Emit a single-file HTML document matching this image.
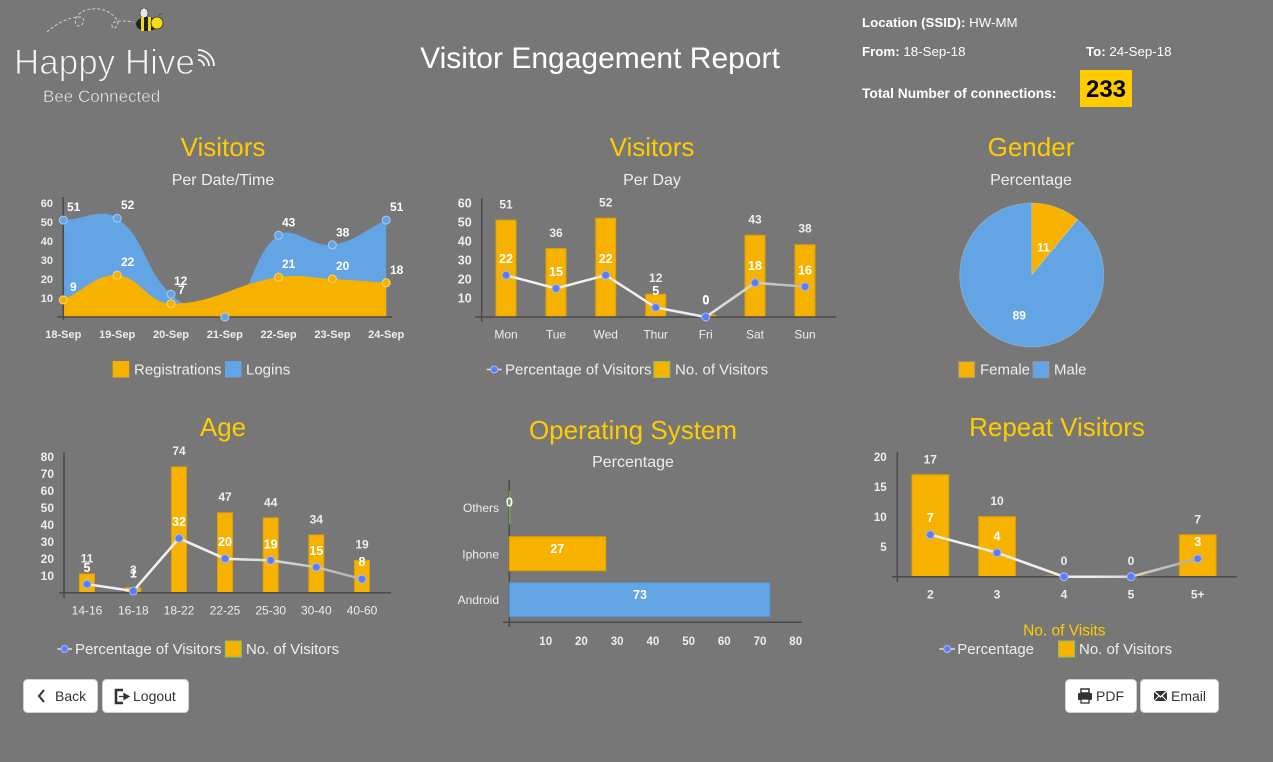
<!DOCTYPE html>
<html><head><meta charset="utf-8"><style>
html,body{margin:0;padding:0;background:#777;width:1273px;height:762px;overflow:hidden}
svg{display:block;font-family:"Liberation Sans",Arial,sans-serif}
</style></head><body>
<svg width="1273" height="762" viewBox="0 0 1273 762" xmlns="http://www.w3.org/2000/svg">
<defs>
<linearGradient id="g2" gradientUnits="userSpaceOnUse" x1="500" y1="0" x2="810" y2="0"><stop offset="0" stop-color="#f2f2f2"/><stop offset="0.6" stop-color="#eeeeee"/><stop offset="1" stop-color="#b5b5b5"/></linearGradient>
<linearGradient id="g4" gradientUnits="userSpaceOnUse" x1="85" y1="0" x2="365" y2="0"><stop offset="0" stop-color="#f2f2f2"/><stop offset="0.5" stop-color="#eeeeee"/><stop offset="1" stop-color="#b0b0b0"/></linearGradient>
<linearGradient id="g6" gradientUnits="userSpaceOnUse" x1="930" y1="0" x2="1200" y2="0"><stop offset="0" stop-color="#f2f2f2"/><stop offset="0.6" stop-color="#eeeeee"/><stop offset="1" stop-color="#a8a8a8"/></linearGradient>
</defs>
<rect width="1273" height="762" fill="#777"/>

<!-- Logo -->
<path d="M47,32 C58,22 70,17 80,17 C86,17 84,26 79,26 C73,26 74,14 86,10 C100,6 112,12 117,20 C120,26 113,31 112,26 C111,21 120,20 134,22" fill="none" stroke="#cfcfcf" stroke-width="1" stroke-dasharray="3,2"/>
<ellipse cx="144" cy="13" rx="4" ry="5" fill="#e8e8e8" stroke="#555" stroke-width="0.8"/>
<ellipse cx="147" cy="24" rx="11" ry="7" fill="#222"/>
<rect x="141" y="17" width="3" height="14" fill="#f0de10"/>
<rect x="148" y="17" width="3" height="14" fill="#f0de10"/>
<circle cx="157" cy="23" r="6" fill="#f0de10" stroke="#333" stroke-width="0.8"/>
<path d="M159,16 q1,-3 3,-2" fill="none" stroke="#444" stroke-width="0.8"/>
<text x="14" y="74" font-size="35" fill="#f6f6f6" stroke="#777" stroke-width="1">Happy Hive</text>
<text x="43" y="102" font-size="17" fill="#f4f4f4" stroke="#777" stroke-width="0.5">Bee Connected</text>
<g fill="none" stroke="#f4f4f4" stroke-width="1.8">
<path d="M198,60 A6,6 0 0,1 204,66"/>
<path d="M198,55 A11,11 0 0,1 209,66"/>
<path d="M198,50 A16,16 0 0,1 214,66"/>
</g>

<!-- Title -->
<text x="600" y="68" font-size="30" fill="#fff" text-anchor="middle">Visitor Engagement Report</text>

<!-- Header info -->
<g font-size="13.3" fill="#fff">
<text x="862" y="27"><tspan font-weight="bold">Location (SSID):</tspan> HW-MM</text>
<text x="862" y="56"><tspan font-weight="bold">From:</tspan> 18-Sep-18</text>
<text x="1086" y="56"><tspan font-weight="bold">To:</tspan> 24-Sep-18</text>
<text x="862" y="98" font-weight="bold" font-size="13.8">Total Number of connections:</text>
</g>
<rect x="1080" y="70" width="52" height="37" fill="#fc0"/>
<text x="1106" y="97" font-size="24" font-weight="bold" fill="#000" text-anchor="middle">233</text>

<!-- Section titles -->
<g font-size="26" fill="#fc0" text-anchor="middle">
<text x="223" y="156">Visitors</text>
<text x="652" y="156">Visitors</text>
<text x="1031" y="156">Gender</text>
<text x="223" y="436">Age</text>
<text x="633" y="439">Operating System</text>
<text x="1057" y="436">Repeat Visitors</text>
</g>
<g font-size="16" fill="#eee" text-anchor="middle">
<text x="223" y="185">Per Date/Time</text>
<text x="652" y="185">Per Day</text>
<text x="1031" y="185">Percentage</text>
<text x="633" y="467">Percentage</text>
</g>

<!-- ============ Chart 1: area ============ -->
<path d="M63.3,220.1 C84.86,219.34 101.4,207.33 117.2,218.2 C144.48,236.97 144.55,269.91 171,294.2 C187.59,309.44 208.7,317 224.8,317 C251.74,302.25 250.98,253.83 278.6,235.3 C294.02,224.95 311.74,247.72 332.4,244.8 C354.78,241.64 364.68,229.98 386.2,220.1 L386.2,317 L63.3,317 Z" fill="#62a4e4"/>
<path d="M63.3,299.9 C84.86,290.02 95.94,274.45 117.2,275.2 C139.02,275.97 148.11,303.43 171,303.7 C212.67,304.19 235.15,283.75 278.6,277.1 C299.71,273.87 310.9,277.86 332.4,279 C353.94,280.14 364.68,281.28 386.2,282.8 L386.2,317 L63.3,317 Z" fill="#f7b200"/>
<line x1="63.3" y1="197" x2="63.3" y2="320" stroke="#4a4a4a" stroke-width="1.5"/>
<line x1="57" y1="317" x2="392" y2="317" stroke="#4a4a4a" stroke-width="1.5"/>
<g fill="#62a4e4" stroke="#a9cdf2" stroke-width="1">
<circle cx="63.3" cy="220.1" r="4"/><circle cx="117.2" cy="218.2" r="4"/><circle cx="171" cy="294.2" r="4"/><circle cx="224.8" cy="317" r="4"/><circle cx="278.6" cy="235.3" r="4"/><circle cx="332.4" cy="244.8" r="4"/><circle cx="386.2" cy="220.1" r="4"/>
</g>
<g fill="#f7b200" stroke="#fbd67a" stroke-width="1">
<circle cx="63.3" cy="299.9" r="4"/><circle cx="117.2" cy="275.2" r="4"/><circle cx="171" cy="303.7" r="4"/><circle cx="278.6" cy="277.1" r="4"/><circle cx="332.4" cy="279" r="4"/><circle cx="386.2" cy="282.8" r="4"/>
</g>
<g font-size="12" font-weight="bold" fill="#fff">
<text x="67" y="211">51</text><text x="121" y="209">52</text><text x="174" y="285">12</text><text x="178" y="294">7</text><text x="282" y="226.5">43</text><text x="336" y="236.5">38</text><text x="390" y="211">51</text>
<text x="70" y="291">9</text><text x="121" y="266">22</text><text x="282" y="268">21</text><text x="336" y="270">20</text><text x="390" y="274">18</text>
</g>
<g font-size="11" font-weight="bold" fill="#eee" text-anchor="end">
<text x="53" y="207">60</text><text x="53" y="226">50</text><text x="53" y="245">40</text><text x="53" y="264">30</text><text x="53" y="283">20</text><text x="53" y="302">10</text>
</g>
<g font-size="11" font-weight="bold" fill="#eee" text-anchor="middle">
<text x="63.3" y="338">18-Sep</text><text x="117.2" y="338">19-Sep</text><text x="171" y="338">20-Sep</text><text x="224.8" y="338">21-Sep</text><text x="278.6" y="338">22-Sep</text><text x="332.4" y="338">23-Sep</text><text x="386.2" y="338">24-Sep</text>
</g>
<rect x="112.7" y="361" width="16.5" height="16.5" fill="#f7b200"/>
<text x="134" y="374.5" font-size="15" fill="#eee">Registrations</text>
<rect x="225" y="361" width="16.5" height="16.5" fill="#62a4e4"/>
<text x="246" y="374.5" font-size="15" fill="#eee">Logins</text>

<!-- ============ Chart 2: per day ============ -->
<g fill="#f7b200" stroke="#dea000" stroke-width="1">
<rect x="496" y="220.1" width="20" height="96.9"/>
<rect x="546" y="248.6" width="20" height="68.4"/>
<rect x="595.7" y="218.2" width="20" height="98.8"/>
<rect x="645.7" y="294.2" width="20" height="22.8"/>
<rect x="695.7" y="315" width="20" height="2"/>
<rect x="745" y="235.3" width="20" height="81.7"/>
<rect x="795" y="244.8" width="20" height="72.2"/>
</g>
<line x1="481.7" y1="198" x2="481.7" y2="322" stroke="#4a4a4a" stroke-width="1.5"/>
<line x1="475" y1="317" x2="836" y2="317" stroke="#4a4a4a" stroke-width="1.5"/>
<polyline points="506,275.2 556,288.5 605.7,275.2 655.7,307.5 705.7,317 755,282.8 805,286.6" fill="none" stroke="url(#g2)" stroke-width="2.5"/>
<g fill="#5b7ef7" stroke="#a7b8ff" stroke-width="1">
<circle cx="506" cy="275.2" r="4"/><circle cx="556" cy="288.5" r="4"/><circle cx="605.7" cy="275.2" r="4"/><circle cx="655.7" cy="307.5" r="4"/><circle cx="705.7" cy="317" r="4"/><circle cx="755" cy="282.8" r="4"/><circle cx="805" cy="286.6" r="4"/>
</g>
<g font-size="12" font-weight="bold" fill="#eee" text-anchor="middle">
<text x="506" y="208.5">51</text><text x="556" y="237">36</text><text x="605.7" y="206.5">52</text><text x="655.7" y="282">12</text><text x="705.7" y="303.5">0</text><text x="755" y="223.5">43</text><text x="805" y="232.5">38</text>
</g>
<g font-size="12.5" font-weight="bold" fill="#fff" text-anchor="middle">
<text x="506" y="262.8">22</text><text x="556" y="276.2">15</text><text x="605.7" y="262.8">22</text><text x="655.7" y="295.2">5</text><text x="706" y="304.5">0</text><text x="755" y="270.2">18</text><text x="805" y="274.5">16</text>
</g>
<g font-size="12.5" font-weight="bold" fill="#eee" text-anchor="end">
<text x="471.7" y="207.5">60</text><text x="471.7" y="226.5">50</text><text x="471.7" y="245.5">40</text><text x="471.7" y="264.5">30</text><text x="471.7" y="283.5">20</text><text x="471.7" y="302.5">10</text>
</g>
<g font-size="12" fill="#eee" text-anchor="middle">
<text x="506" y="338.3">Mon</text><text x="556" y="338.3">Tue</text><text x="605.7" y="338.3">Wed</text><text x="655.7" y="338.3">Thur</text><text x="705.7" y="338.3">Fri</text><text x="755" y="338.3">Sat</text><text x="805" y="338.3">Sun</text>
</g>
<line x1="486.7" y1="369.5" x2="501.7" y2="369.5" stroke="#ddd" stroke-width="1.5"/>
<circle cx="494.2" cy="369.5" r="3.5" fill="#5b7ef7" stroke="#a7b8ff" stroke-width="1"/>
<text x="505" y="374.5" font-size="15" fill="#eee">Percentage of Visitors</text>
<rect x="653.8" y="361.5" width="16" height="16" fill="#f7b200" stroke="#8fc45a" stroke-width="1"/>
<text x="675" y="374.5" font-size="15" fill="#eee">No. of Visitors</text>

<!-- ============ Chart 3: pie ============ -->
<path d="M1031.7,275 L1031.7,203 A72,72 0 0,1 1077.6,219.5 Z" fill="#f7b200" stroke="rgba(255,255,255,0.25)" stroke-width="0.8"/>
<path d="M1031.7,275 L1077.6,219.5 A72,72 0 1,1 1031.7,203 Z" fill="#62a4e4" stroke="rgba(255,255,255,0.25)" stroke-width="0.8"/>
<text x="1043.3" y="251.5" font-size="12" font-weight="bold" fill="#fff" text-anchor="middle">11</text>
<text x="1019.3" y="319.5" font-size="12" font-weight="bold" fill="#fff" text-anchor="middle">89</text>
<rect x="958.7" y="361.7" width="16" height="16" fill="#f7b200" stroke="#999" stroke-width="0.8"/>
<text x="980" y="374.5" font-size="15" fill="#eee">Female</text>
<rect x="1033" y="361.7" width="16" height="16" fill="#62a4e4" stroke="#999" stroke-width="0.8"/>
<text x="1054" y="374.5" font-size="15" fill="#eee">Male</text>

<!-- ============ Chart 4: Age ============ -->
<g fill="#f7b200" stroke="#dea000" stroke-width="1">
<rect x="79.5" y="574" width="15" height="18.7"/>
<rect x="125.8" y="587.6" width="15" height="5.1"/>
<rect x="171.5" y="466.9" width="15" height="125.8"/>
<rect x="217.5" y="512.8" width="15" height="79.9"/>
<rect x="263.2" y="517.9" width="15" height="74.8"/>
<rect x="308.8" y="534.9" width="15" height="57.8"/>
<rect x="354.5" y="560.4" width="15" height="32.3"/>
</g>
<line x1="64" y1="452" x2="64" y2="598" stroke="#4a4a4a" stroke-width="1.5"/>
<line x1="59" y1="592.7" x2="391" y2="592.7" stroke="#4a4a4a" stroke-width="1.5"/>
<polyline points="87,584.2 133.3,591 179,538.3 225,558.7 270.7,560.4 316.3,567.2 362,579.1" fill="none" stroke="url(#g4)" stroke-width="2.5"/>
<g fill="#5b7ef7" stroke="#a7b8ff" stroke-width="1">
<circle cx="87" cy="584.2" r="4"/><circle cx="133.3" cy="591" r="4"/><circle cx="179" cy="538.3" r="4"/><circle cx="225" cy="558.7" r="4"/><circle cx="270.7" cy="560.4" r="4"/><circle cx="316.3" cy="567.2" r="4"/><circle cx="362" cy="579.1" r="4"/>
</g>
<g font-size="12" font-weight="bold" fill="#eee" text-anchor="middle">
<text x="87" y="562.5">11</text><text x="133.3" y="574">3</text><text x="179" y="455">74</text><text x="225" y="501">47</text><text x="270.7" y="506.3">44</text><text x="316.3" y="523.6">34</text><text x="362" y="548.3">19</text>
</g>
<g font-size="12.5" font-weight="bold" fill="#fff" text-anchor="middle">
<text x="87" y="572">5</text><text x="133.3" y="577.3">1</text><text x="179" y="526">32</text><text x="225" y="546">20</text><text x="270.7" y="548.3">19</text><text x="316.3" y="555">15</text><text x="362" y="566">8</text>
</g>
<g font-size="12" font-weight="bold" fill="#eee" text-anchor="end">
<text x="54" y="461">80</text><text x="54" y="478">70</text><text x="54" y="495">60</text><text x="54" y="512">50</text><text x="54" y="529">40</text><text x="54" y="546">30</text><text x="54" y="563">20</text><text x="54" y="580">10</text>
</g>
<g font-size="12" fill="#eee" text-anchor="middle">
<text x="87" y="614.3">14-16</text><text x="133.3" y="614.3">16-18</text><text x="179" y="614.3">18-22</text><text x="225" y="614.3">22-25</text><text x="270.7" y="614.3">25-30</text><text x="316.3" y="614.3">30-40</text><text x="362" y="614.3">40-60</text>
</g>
<line x1="57.3" y1="649" x2="72" y2="649" stroke="#ddd" stroke-width="1.5"/>
<circle cx="64.6" cy="649" r="3.5" fill="#5b7ef7" stroke="#a7b8ff" stroke-width="1"/>
<text x="75" y="654" font-size="15" fill="#eee">Percentage of Visitors</text>
<rect x="225.3" y="641" width="16" height="16" fill="#f7b200" stroke="#8fc45a" stroke-width="1"/>
<text x="246" y="654" font-size="15" fill="#eee">No. of Visitors</text>

<!-- ============ Chart 5: OS ============ -->
<line x1="509.3" y1="480" x2="509.3" y2="627" stroke="#4a4a4a" stroke-width="1.5"/>
<line x1="503" y1="622.3" x2="802" y2="622.3" stroke="#4a4a4a" stroke-width="1.5"/>
<line x1="509.8" y1="491" x2="509.8" y2="524.3" stroke="#7fc241" stroke-width="1"/>
<rect x="509.3" y="536.7" width="96.4" height="34" fill="#f7b200" stroke="#dea000" stroke-width="1"/>
<rect x="509.3" y="582.7" width="260.6" height="34" fill="#62a4e4" stroke="#4f92d2" stroke-width="1"/>
<g font-size="12.5" font-weight="bold" fill="#fff" text-anchor="middle">
<text x="509.5" y="506.7">0</text><text x="557.3" y="552.8">27</text><text x="640" y="598.8">73</text>
</g>
<g font-size="12" fill="#eee" text-anchor="end">
<text x="499" y="512">Others</text><text x="499" y="558.3">Iphone</text><text x="499" y="604">Android</text>
</g>
<g font-size="11.5" font-weight="bold" fill="#eee" text-anchor="middle">
<text x="545.7" y="645">10</text><text x="581.4" y="645">20</text><text x="617.1" y="645">30</text><text x="652.9" y="645">40</text><text x="688.6" y="645">50</text><text x="724.3" y="645">60</text><text x="760" y="645">70</text><text x="795.7" y="645">80</text>
</g>

<!-- ============ Chart 6: Repeat ============ -->
<g fill="#f7b200" stroke="#dea000" stroke-width="1">
<rect x="912" y="474.7" width="36.7" height="102"/>
<rect x="978.7" y="516.7" width="36.7" height="60"/>
<rect x="1045.7" y="576" width="36.7" height="0.7"/>
<rect x="1112.7" y="576" width="36.7" height="0.7"/>
<rect x="1179.4" y="534.7" width="36.7" height="42"/>
</g>
<line x1="897.3" y1="452" x2="897.3" y2="582" stroke="#4a4a4a" stroke-width="1.5"/>
<line x1="891.7" y1="576.7" x2="1237" y2="576.7" stroke="#4a4a4a" stroke-width="1.5"/>
<polyline points="930.3,534.7 997,552.7 1064,576.7 1131,576.7 1197.7,558.7" fill="none" stroke="url(#g6)" stroke-width="2.5"/>
<g fill="#5b7ef7" stroke="#a7b8ff" stroke-width="1">
<circle cx="930.3" cy="534.7" r="4"/><circle cx="997" cy="552.7" r="4"/><circle cx="1064" cy="576.7" r="4"/><circle cx="1131" cy="576.7" r="4"/><circle cx="1197.7" cy="558.7" r="4"/>
</g>
<g font-size="12" font-weight="bold" fill="#eee" text-anchor="middle">
<text x="930.3" y="463.3">17</text><text x="997" y="505">10</text><text x="1064" y="565">0</text><text x="1131" y="565">0</text><text x="1197.7" y="523.3">7</text>
</g>
<g font-size="12.5" font-weight="bold" fill="#fff" text-anchor="middle">
<text x="930.3" y="522">7</text><text x="997" y="540.3">4</text><text x="1197.7" y="546">3</text>
</g>
<g font-size="11.5" font-weight="bold" fill="#eee" text-anchor="end">
<text x="886.7" y="461">20</text><text x="886.7" y="491">15</text><text x="886.7" y="521">10</text><text x="886.7" y="551">5</text>
</g>
<g font-size="12" font-weight="bold" fill="#eee" text-anchor="middle">
<text x="930.3" y="598.6">2</text><text x="997" y="598.6">3</text><text x="1064" y="598.6">4</text><text x="1131" y="598.6">5</text><text x="1197.7" y="598.6">5+</text>
</g>
<text x="1064.3" y="635.5" font-size="15.5" fill="#fc0" text-anchor="middle">No. of Visits</text>
<line x1="939.3" y1="649" x2="955" y2="649" stroke="#ddd" stroke-width="1.5"/>
<circle cx="947.2" cy="649" r="3.5" fill="#5b7ef7" stroke="#a7b8ff" stroke-width="1"/>
<text x="957.3" y="654" font-size="15" fill="#eee">Percentage</text>
<rect x="1058.5" y="641" width="16" height="16" fill="#f7b200" stroke="#8fc45a" stroke-width="1"/>
<text x="1079" y="654" font-size="15" fill="#eee">No. of Visitors</text>

<!-- ============ Buttons ============ -->
<g fill="#fff" stroke="#d0d0d0" stroke-width="1">
<rect x="23.5" y="679.5" width="74" height="33" rx="4"/>
<rect x="102.5" y="679.5" width="86" height="33" rx="4"/>
<rect x="1065.5" y="679.5" width="71" height="33" rx="4"/>
<rect x="1140.5" y="679.5" width="78" height="33" rx="4"/>
</g>
<polyline points="44,690 39,696 44,702" fill="none" stroke="#333" stroke-width="2"/>
<text x="55" y="701" font-size="14" fill="#333">Back</text>
<path d="M123,690 L116,690 L116,703 L123,703" fill="none" stroke="#333" stroke-width="2.6"/>
<path d="M119,696.5 L124,696.5 L124,693.5 L129,696.5 L124,699.5 L124,696.5" fill="#333" stroke="#333" stroke-width="1.2"/>
<text x="133" y="701" font-size="14" fill="#333">Logout</text>
<rect x="1081" y="689" width="8" height="4" fill="none" stroke="#333" stroke-width="1.5"/>
<rect x="1078" y="693" width="14" height="7" rx="1" fill="#333"/>
<rect x="1081" y="699" width="8" height="4" fill="#fff" stroke="#333" stroke-width="1.3"/>
<text x="1096" y="701" font-size="14" fill="#333">PDF</text>
<rect x="1154" y="691" width="13" height="10" fill="#333"/>
<polyline points="1154,691 1160.5,697 1167,691" fill="none" stroke="#fff" stroke-width="1.2"/>
<path d="M1154,701 L1159,696 M1167,701 L1162,696" stroke="#fff" stroke-width="1"/>
<text x="1171" y="701" font-size="14" fill="#333">Email</text>
</svg>
</body></html>
